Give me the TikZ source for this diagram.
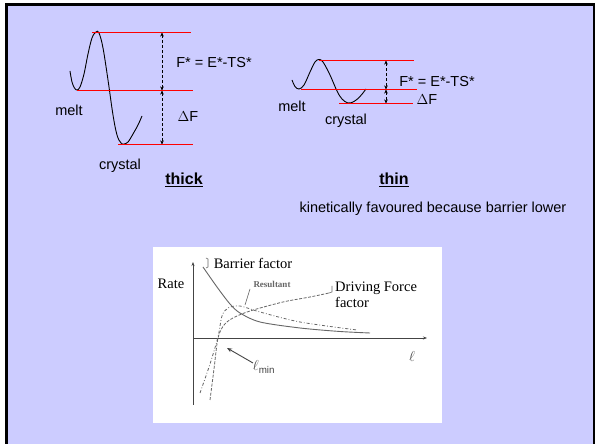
\documentclass[tikz,border=0pt]{standalone}
\usepackage{fontspec}
\setmainfont{Liberation Sans}
\newfontfamily\serifgraph{Liberation Serif}
\usetikzlibrary{arrows.meta}
\definecolor{lav}{HTML}{CCCCFF}
\definecolor{curvegray}{HTML}{666666}
\definecolor{axisgray}{HTML}{444444}
\definecolor{lvlred}{HTML}{FF0000}
\tikzset{
  lbl/.style={inner sep=0pt, font=\fontsize{14.5}{16}\selectfont},
  title/.style={inner sep=0pt, font=\fontsize{16}{18}\selectfont\bfseries},
  glbl/.style={inner sep=0pt, font=\fontsize{14.5}{16}\selectfont\serifgraph},
  level/.style={draw=lvlred, line width=1.2pt},
  gap/.style={densely dashed, line width=0.5pt, {Stealth[length=4pt,width=3.5pt]}-{Stealth[length=4pt,width=3.5pt]}},
  wave/.style={line width=0.9pt},
}
\begin{document}
\begin{tikzpicture}[x=1pt,y=1pt]
\useasboundingbox (0,0) rectangle (595,444);
\clip (0,0) rectangle (595,444);
\fill[white] (0,0) rectangle (595,444);
\draw[fill=lav, line width=2.6pt] (6.2,439.6) rectangle (593.8,-20);

% ---- thick ----
\coordinate (tkA) at (162,411.5);
\coordinate (tkB) at (162,353.5);
\coordinate (tkC) at (162,299.5);
\draw[gap] (tkA) -- (tkB);
\draw[gap] (tkB) -- (tkC);
\draw[wave] plot[smooth, tension=0.6] coordinates {(70,373) (72,362) (74.5,356) (77,354) (80,357) (84,370) (88,390) (92,406) (96,412) (99,411) (103,396) (108,364) (113,329) (117,309) (121,301) (124,300) (128,302) (133,310) (138,319) (142,328)};
\draw[level] (92,411.5) -- (191,411.5);
\draw[level] (77,353.5) -- (193,353.5);
\draw[level] (118,299.5) -- (193,299.5);
\node[lbl] (tkF) at (214,381) {F* = E*-TS*};
\node[lbl] (tkD) at (188,327) {$\Delta$F};
\node[lbl] (tkM) at (69,334) {melt};
\node[lbl] (tkX) at (120,278) {crystal};
\node[title] (tkT) at (184,264) {\underline{thick}};

% ---- thin ----
\coordinate (tnA) at (386,383.5);
\coordinate (tnB) at (386,354.5);
\coordinate (tnC) at (386,340.5);
\draw[gap] (tnA) -- (tnB);
\draw[gap] (tnB) -- (tnC);
\draw[wave] plot[smooth, tension=0.6] coordinates {(292,364) (295,357.5) (299,355) (304,359) (310,372) (315,382) (319,384.5) (323,382) (330,369) (337,353) (342,345) (348,341) (354,342.5) (360,347.5) (366,355)};
\draw[level] (319,383.5) -- (414,383.5);
\draw[level] (301,354.5) -- (417,354.5);
\draw[level] (339,340.5) -- (413,340.5);
\node[lbl] (tnF) at (437,362) {F* = E*-TS*};
\node[lbl] (tnD) at (427,344) {$\Delta$F};
\node[lbl] (tnM) at (292,338) {melt};
\node[lbl] (tnX) at (346,323) {crystal};
\node[title] (tnT) at (394,264) {\underline{thin}};
\node[lbl] (kin) at (433,235) {kinetically favoured because barrier lower};

% ---- graph ----
\fill[white] (153,21) rectangle (442,197);
\coordinate (o) at (193,106);
\coordinate (ybot) at (193,39);
\coordinate (ytop) at (193,182);
\coordinate (xend) at (427,106);
\draw[axisgray, line width=0.9pt, -{Stealth[length=4pt,width=3pt]}] (ybot) -- (ytop);
\draw[axisgray, line width=0.9pt, -{Stealth[length=4pt,width=3pt]}] (o) -- (xend);
\draw[curvegray, line width=0.9pt] plot[smooth] coordinates {(203,177) (217,157) (230,140) (240,131) (260,122) (300,116) (340,112.5) (370,111)};
\draw[curvegray, line width=0.8pt, dash dot] plot[smooth] coordinates {(200,51) (210,80) (218,107) (222,128) (228,136) (240,138) (260,132) (300,122) (357,114)};
\draw[curvegray, line width=0.8pt, dash pattern=on 3pt off 1.5pt] plot[smooth] coordinates {(210,44) (214,75) (218,106) (224,119) (233,126) (250,133) (283,142) (310,147) (329,151)};
\draw[curvegray, line width=0.6pt] (329,151) -- (332,152) -- (332,158);
\draw[curvegray, line width=0.6pt] (206,186) -- (208,185) -- (208,177) -- (206,176);
\coordinate (resPeak) at (245,139);
\coordinate (resTip) at (250,155);
\draw[curvegray, line width=0.6pt] (resPeak) -- (resTip);
\node[glbl] (rate) at (171,160) {Rate};
\node[glbl] (bar) at (253,181) {Barrier factor};
\node[inner sep=0pt, font=\fontsize{9}{10}\selectfont\serifgraph\bfseries, text=curvegray] (res) at (272,160) {Resultant};
\node[glbl, anchor=west, align=left] (drv) at (335,149) {Driving Force\\factor};
\node[inner sep=0pt, font=\fontsize{14}{16}\selectfont, text=axisgray] (lmin) at (264,77) {$\ell_{\mathrm{min}}$};
\node[inner sep=0pt, font=\fontsize{14}{16}\selectfont, text=axisgray] (lx) at (412,87) {$\ell$};
\coordinate (lminStart) at (253,81);
\coordinate (lminTip) at (227,96);
\draw[axisgray, line width=0.9pt, -{Stealth[length=5pt,width=4pt]}] (lminStart) -- (lminTip);
\end{tikzpicture}
\end{document}
